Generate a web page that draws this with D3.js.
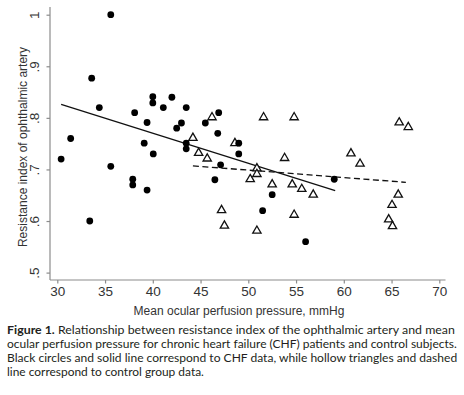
<!DOCTYPE html>
<html>
<head>
<meta charset="utf-8">
<script src="https://cdn.jsdelivr.net/npm/d3@7/dist/d3.min.js"></script>
<style>
  html, body { margin: 0; padding: 0; background: #fff; }
  svg { display: block; }
</style>
</head>
<body>
<svg id="chart" width="464" height="395"></svg>
<script>
// ---- Data ----
const chfX = [30.4, 31.4, 33.4, 33.6, 34.4, 35.6, 35.6, 37.9, 37.9, 38.1, 39.1, 39.4, 39.4, 40.0, 40.0, 40.05, 41.1, 42.0, 42.5, 43.0, 43.5, 43.5, 43.5, 45.5, 46.5, 46.8, 46.9, 47.1, 49.0, 49.0, 51.5, 52.5, 56.0, 59.0];
const chfY = [0.720, 0.760, 0.600, 0.877, 0.820, 1.000, 0.706, 0.681, 0.670, 0.810, 0.751, 0.791, 0.660, 0.841, 0.829, 0.730, 0.820, 0.840, 0.780, 0.790, 0.820, 0.751, 0.740, 0.790, 0.680, 0.770, 0.810, 0.709, 0.751, 0.730, 0.620, 0.651, 0.560, 0.681];
const ctrlX = [44.2, 44.8, 45.7, 46.2, 47.2, 47.5, 48.6, 50.2, 50.9, 50.9, 50.9, 51.6, 52.5, 53.8, 54.6, 54.8, 54.8, 55.6, 56.8, 60.75, 61.7, 64.7, 65.05, 65.1, 65.7, 65.8, 66.75];
const ctrlY = [0.761, 0.732, 0.721, 0.801, 0.621, 0.591, 0.751, 0.681, 0.702, 0.691, 0.581, 0.801, 0.671, 0.722, 0.671, 0.801, 0.612, 0.662, 0.651, 0.731, 0.711, 0.603, 0.631, 0.590, 0.651, 0.791, 0.782];
// fitted lines (endpoints)
const fitChfX = [30.4, 59.1];
const fitChfY = [0.826, 0.659];
const fitCtrlX = [44.2, 66.5];
const fitCtrlY = [0.707, 0.675];
// ticks
const xTicks = [30, 35, 40, 45, 50, 55, 60, 65, 70];
const yTicks = [0.5, 0.6, 0.7, 0.8, 0.9, 1.0];
const yTickLabels = [".5", ".6", ".7", ".8", ".9", "1"];
const xTitle = "Mean ocular perfusion pressure, mmHg";
const yTitle = "Resistance index of ophthalmic artery";
const captionBold = "Figure 1.";
const captionLines = [
  " Relationship between resistance index of the ophthalmic artery and mean",
  "ocular perfusion pressure for chronic heart failure (CHF) patients and control subjects.",
  "Black circles and solid line correspond to CHF data, while hollow triangles and dashed",
  "line correspond to control group data."
];

// ---- Layout ----
const svg = d3.select("#chart");
const axisColor = "#8c8c8c";
const textColor = "#333";
const chartFont = "'Liberation Sans', Arial, Helvetica, sans-serif";

const x = d3.scaleLinear().domain([30, 70]).range([57.3, 439.3]);
const y = d3.scaleLinear().domain([0.5, 1]).range([272.6, 14.7]);

const axisX0 = 50, axisY0 = 280;

// axis lines
svg.append("line").attr("x1", axisX0).attr("x2", axisX0).attr("y1", 7).attr("y2", axisY0)
  .attr("stroke", axisColor).attr("stroke-width", 1.2);
svg.append("line").attr("x1", axisX0).attr("x2", 445.5).attr("y1", axisY0).attr("y2", axisY0)
  .attr("stroke", axisColor).attr("stroke-width", 1.2);

// x axis
const xAxis = d3.axisBottom(x).tickValues(xTicks).tickSize(3.5).tickPadding(4).tickFormat(d3.format("d"));
const gx = svg.append("g").attr("transform", `translate(0,${axisY0})`).call(xAxis);
gx.select(".domain").remove();
gx.selectAll(".tick line").attr("stroke", axisColor).attr("stroke-width", 1.2);
gx.selectAll(".tick text").attr("fill", textColor).style("font-family", chartFont).style("font-size", "13.5px")
  .attr("y", 6).attr("dy", "0.71em");

// y axis
const yAxis = d3.axisLeft(y).tickValues(yTicks).tickSize(3.5).tickPadding(4)
  .tickFormat((d, i) => yTickLabels[i]);
const gy = svg.append("g").attr("transform", `translate(${axisX0},0)`).call(yAxis);
gy.select(".domain").remove();
gy.selectAll(".tick line").attr("stroke", axisColor).attr("stroke-width", 1.2);
gy.selectAll(".tick text").attr("fill", textColor).style("font-family", chartFont).style("font-size", "13.5px")
  .attr("x", null).attr("dy", null)
  .attr("text-anchor", "middle")
  .attr("transform", "translate(-11,0) rotate(-90)")
  .attr("dy", "0em");

// axis titles
svg.append("text").attr("x", 239).attr("y", 315)
  .attr("text-anchor", "middle").attr("fill", textColor)
  .style("font-family", chartFont).style("font-size", "12px").text(xTitle);
svg.append("text").attr("transform", "translate(27,147) rotate(-90)")
  .attr("text-anchor", "middle").attr("fill", textColor)
  .style("font-family", chartFont).style("font-size", "12px").text(yTitle);

// fit lines
const line = d3.line().x(d => x(d[0])).y(d => y(d[1]));
svg.append("path").datum(fitChfX.map((v, i) => [v, fitChfY[i]]))
  .attr("d", line).attr("fill", "none").attr("stroke", "#111").attr("stroke-width", 1.3);
svg.append("path").datum(fitCtrlX.map((v, i) => [v, fitCtrlY[i]]))
  .attr("d", line).attr("fill", "none").attr("stroke", "#111").attr("stroke-width", 1.3)
  .attr("stroke-dasharray", "6,3.5");

// control triangles
const tri = d3.symbol().type(d3.symbolTriangle).size(30);
svg.append("g").selectAll("path").data(ctrlX.map((v, i) => [v, ctrlY[i]])).join("path")
  .attr("d", tri)
  .attr("transform", d => `translate(${x(d[0])},${y(d[1])})`)
  .attr("fill", "#fff").attr("stroke", "#111").attr("stroke-width", 1.3);

// CHF circles
svg.append("g").selectAll("circle").data(chfX.map((v, i) => [v, chfY[i]])).join("circle")
  .attr("cx", d => x(d[0])).attr("cy", d => y(d[1])).attr("r", 3.4).attr("fill", "#000");

// caption (horizontally scaled to the reference line widths)
const capFont = "Lato, 'Open Sans', sans-serif";
const capWidths = [448, 450, 450, 197];
const capY = [333.5, 347.5, 361.5, 375.5];
captionLines.forEach((t, i) => {
  const tx = svg.append("text").attr("x", 0).attr("y", 0).attr("fill", "#231f20")
    .style("font-family", capFont).style("font-size", "11.6px");
  if (i === 0) tx.append("tspan").style("font-weight", "bold").text(captionBold);
  tx.append("tspan").text(t);
  const w = tx.node().getComputedTextLength();
  const sx = capWidths[i] / w;
  tx.attr("transform", `translate(7,${capY[i]}) scale(${sx},1)`);
});
</script>
</body>
</html>
